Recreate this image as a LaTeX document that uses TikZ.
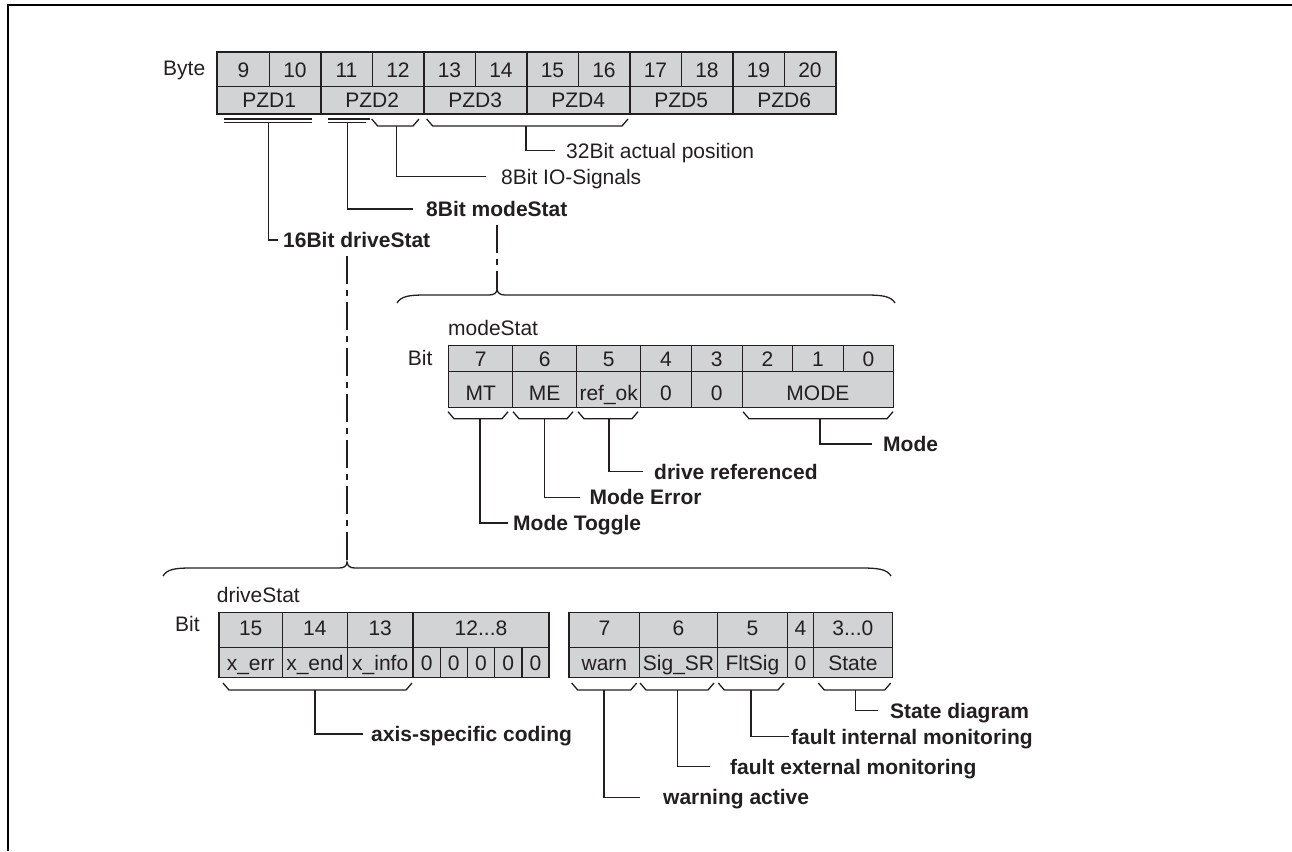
\documentclass[tikz,border=0pt]{standalone}
\usepackage{fontspec}
\setmainfont{Liberation Sans}
\definecolor{lc}{RGB}{35,31,32}
\definecolor{cellfill}{RGB}{209,211,212}
\newcommand\fsz{\fontsize{21}{25}\selectfont}
\newcommand\tdots{...}
\newcommand\brk[5]{\draw[ln,line join=miter] (#2,#4) -- ({#2+6},{#4+7}) -- ({#3-6},{#4+7}) -- (#3,#4); \coordinate (#1) at (#5,{#4+7});}
\begin{document}
\begin{tikzpicture}[x=1pt,y=-1pt,
 ln/.style={draw=lc,line width=1.3pt},
 cell/.style={draw=lc,line width=1.4pt,fill=cellfill,inner sep=0pt,anchor=north west,text height=15pt,text depth=0pt,font=\fsz,text=lc},
 lowtext/.style={text height=22pt,text depth=0pt},
 hightext/.style={text height=11pt,text depth=0pt},
 lbl/.style={inner sep=0pt,anchor=west,text height=15pt,text depth=0pt,font=\fsz,text=lc},
 blbl/.style={lbl,font=\fsz\bfseries},
 conn/.style={ln,line join=miter},
 dd/.style={draw=lc,line width=1.2pt,dash pattern=on 28pt off 6pt on 6pt off 6pt},
 thk/.style={draw=lc,line width=1.9pt},
]
\useasboundingbox (0,0) rectangle (1292,851);
\draw[line width=2pt,draw=black] (8,851) -- (8,5) -- (1292,5);

% ---------- top byte table ----------
\foreach \n [count=\i from 0] in {9,10,...,20}
  \node[cell,minimum width=51.5pt,minimum height=34pt] (byte\n) at ({217+51.5*\i},52) {\n};
\foreach \i in {1,...,6}
  \node[cell,minimum width=103pt,minimum height=27pt] (pzd\i) at ({217+103*(\i-1)},86) {PZD\i};
\foreach \i in {1,...,5}
  \draw[thk] (pzd\i.south east) -- (pzd\i.south east |- byte9.north);
\draw[thk] (byte9.north west) rectangle (pzd6.south east);
\node[lbl] (byteLbl) at (163,68) {Byte};

% double lines
\draw[ln,line width=1.1pt] (224,119) -- (312,119) (224,122.5) -- (312,122.5);
\draw[ln,line width=1.1pt] (328,119) -- (370,119) (328,122.5) -- (366,122.5);
\coordinate (dbl1) at (268.3,122.5);
\coordinate (dbl2) at (347.7,122.5);

\brk{bIO}{371.7}{419}{119}{396.7}
\brk{bPos}{426.7}{628}{119}{526}

\node[lbl] (lPos) at (566,150.5) {32Bit actual position};
\node[lbl] (lIO) at (501,176.7) {8Bit IO-Signals};
\node[blbl] (lMS) at (426,209) {8Bit modeStat};
\node[blbl] (lDS) at (283,240) {16Bit driveStat};
\draw[conn,shorten >=11pt] (bPos) |- (lPos.west);
\draw[conn,shorten >=15pt] (bIO) |- (lIO.west);
\draw[conn,shorten >=13pt] (dbl2) |- (lMS.west);
\draw[conn,shorten >=5pt] (dbl1) |- (lDS.west);

% ---------- modeStat brace ----------
\coordinate (msTip) at (497,289);
\draw[ln] (397,303) .. controls (401,296) and (410,295) .. (425,295) -- (489,295)
  .. controls (494,295) and (497,293) .. (msTip)
  .. controls (497.5,293) and (500,295) .. (505,295) -- (866,295)
  .. controls (881,295) and (891,296) .. (895,303);
\draw[dd,shorten <=8pt] (msTip |- lMS.south) -- (msTip);

\node[lbl] (msName) at (448,328) {modeStat};
\node[lbl] (msBit) at (407.7,358) {Bit};

\foreach \b/\x/\w in {7/448/64pt,6/512/64pt,5/576/64pt,4/640/50.5pt,3/690.5/51pt,2/741.5/50.5pt,1/792/50.5pt,0/842.5/50.5pt}
  \node[cell,minimum width=\w,minimum height=26pt] (ms\b) at (\x,345) {\b};
\foreach \nm/\x/\w/\t in {MT/448/64pt/MT,ME/512/64pt/ME,Ref/576/64pt/ref\_ok,Za/640/50.5pt/0,Zb/690.5/51pt/0,Mode/741.5/151.5pt/MODE}
  \node[cell,lowtext,minimum width=\w,minimum height=36pt] (ms\nm) at (\x,371) {\t};

\brk{bMT}{448}{508}{411.7}{480}
\brk{bME}{513}{573}{411.7}{544.3}
\brk{bRef}{578}{638}{411.7}{609}
\brk{bMode}{743}{893}{411.7}{820}

\node[blbl] (lMode) at (883,444) {Mode};
\node[blbl] (lRef) at (654,471.7) {drive referenced};
\node[blbl] (lME) at (589.3,497.3) {Mode Error};
\node[blbl] (lMT) at (513,523) {Mode Toggle};
\draw[conn,shorten >=11pt] (bMode) |- (lMode.west);
\draw[conn,shorten >=11pt] (bRef) |- (lRef.west);
\draw[conn,shorten >=9pt] (bME) |- (lME.west);
\draw[conn,shorten >=5pt] (bMT) |- (lMT.west);

% ---------- driveStat brace ----------
\coordinate (dsTop) at (347,256);
\coordinate (dsTip) at (347,562);
\draw[dd] (dsTop) -- (dsTip);
\draw[ln] (163,576) .. controls (167,569) and (176,568) .. (191,568) -- (339,568)
  .. controls (344,568) and (347,566) .. (dsTip)
  .. controls (347.5,566) and (350,568) .. (355,568) -- (862,568)
  .. controls (877,568) and (887,569) .. (891,576);

\node[lbl] (dsName) at (216.7,595) {driveStat};
\node[lbl] (dsBit) at (175,624) {Bit};

\foreach \nm/\x/\w/\t in {a/218.3/63.4pt/15,b/281.7/65pt/14,c/346.7/65.6pt/13,d/412.3/136pt/12\tdots8,
    e/568.3/70.7pt/7,f/639/77.7pt/6,g/716.7/70pt/5,h/786.7/26pt/4,i/812.7/79pt/3\tdots0}
  \node[cell,hightext,minimum width=\w,minimum height=35pt] (dsT\nm) at (\x,612) {\t};
\foreach \nm/\x/\w/\t in {a/218.3/63.4pt/x\_err,b/281.7/65pt/x\_end,c/346.7/65.6pt/x\_info,
    e/568.3/70.7pt/warn,f/639/77.7pt/Sig\_SR,g/716.7/70pt/FltSig,h/786.7/26pt/0,i/812.7/79pt/State}
  \node[cell,minimum width=\w,minimum height=30pt] (dsB\nm) at (\x,647) {\t};
\foreach \k in {0,...,4}
  \node[cell,minimum width=27.2pt,minimum height=30pt] (dsZ\k) at ({412.3+27.2*\k},647) {0};

\brk{bAxis}{223}{412}{683}{315}
\brk{bWarn}{571.7}{636.7}{683}{604}
\brk{bSig}{640}{714}{683}{677.7}
\brk{bFlt}{718.3}{784}{683}{751}
\brk{bState}{818.3}{890.7}{683}{855.7}

\node[blbl] (lAxis) at (371,734) {axis-specific coding};
\node[blbl] (lState) at (890,710.7) {State diagram};
\node[blbl] (lFlt) at (791,736.7) {fault internal monitoring};
\node[blbl] (lExt) at (730,766.7) {fault external monitoring};
\node[blbl] (lWarn) at (663,797.3) {warning active};
\draw[conn,shorten >=8pt] (bAxis) |- (lAxis.west);
\draw[conn,shorten >=12pt] (bState) |- (lState.west);
\draw[conn,shorten >=2pt] (bFlt) |- (lFlt.west);
\draw[conn,shorten >=20pt] (bSig) |- (lExt.west);
\draw[conn,shorten >=23pt] (bWarn) |- (lWarn.west);
\end{tikzpicture}
\end{document}
